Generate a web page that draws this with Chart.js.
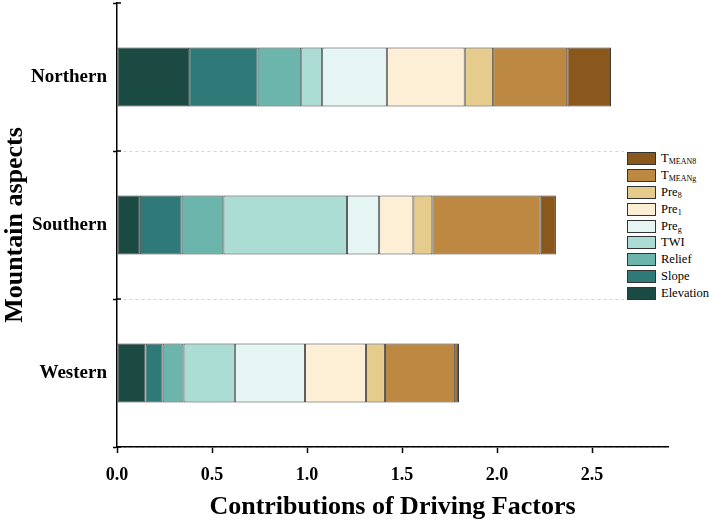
<!DOCTYPE html>
<html>
<head>
<meta charset="utf-8">
<script src="https://cdn.jsdelivr.net/npm/chart.js@4.4.0/dist/chart.umd.min.js"></script>
<style>
  html, body { margin: 0; padding: 0; background: #fff; }
  #wrap { position: relative; width: 709px; height: 526px; }
  #legend {
    position: absolute; left: 624px; top: 148px; background: #fff;
    padding: 2px 0 2px 3px; font-family: "Liberation Serif", "Times New Roman", serif;
    font-size: 12.5px; color: #000;
  }
  .item { display: flex; align-items: center; height: 16.9px; }
  .box { width: 27px; height: 11px; border: 1px solid #333; margin-right: 5px; }
  .item sub { font-size: 8px; vertical-align: -2px; }
</style>
</head>
<body>
<div id="wrap">
  <canvas id="chart" width="709" height="526"></canvas>
  <div id="legend"></div>
</div>
<script>
const aspects = ["Northern", "Southern", "Western"];

// factor names split into main text and subscript (for the legend)
const factorMain = ["Elevation", "Slope", "Relief", "TWI", "Pre", "Pre", "Pre", "T", "T"];
const factorSub = ["", "", "", "", "g", "1", "8", "MEANg", "MEAN8"];
const factorColors = ["#1b4a43", "#2f7a78", "#6cb5ac", "#acddd5", "#e5f5f4", "#fdeed6", "#e6cc8c", "#bd8842", "#8a571c"];

// contribution of each factor, order: Northern, Southern, Western
const elevation = [0.38, 0.12, 0.15];
const slope = [0.36, 0.22, 0.09];
const relief = [0.23, 0.22, 0.11];
const twi = [0.11, 0.65, 0.27];
const preG = [0.34, 0.17, 0.37];
const pre1 = [0.41, 0.18, 0.32];
const pre8 = [0.15, 0.10, 0.10];
const tmeanG = [0.39, 0.57, 0.37];
const tmean8 = [0.23, 0.08, 0.02];

const xTicks = [0, 0.5, 1.0, 1.5, 2.0, 2.5];

const values = [elevation, slope, relief, twi, preG, pre1, pre8, tmeanG, tmean8];
const serif = "'Liberation Serif', 'Times New Roman', serif";

const datasets = values.map((v, i) => ({
    label: factorMain[i] + factorSub[i],
    data: v,
    backgroundColor: factorColors[i],
    borderColor: "#3a3a3a",
    borderWidth: 1,
    borderSkipped: false,
    barPercentage: 0.4,
    categoryPercentage: 1.0
}));

// short ticks on the inner side of the y axis, at the category boundaries
const innerTicks = {
    id: "innerTicks",
    afterDraw(chart) {
        const a = chart.chartArea;
        const x = chart.scales.y.right;
        const n = chart.data.labels.length;
        const ctx = chart.ctx;
        ctx.save();
        ctx.strokeStyle = "#000";
        ctx.lineWidth = 1.5;
        for (let i = 0; i <= n; i++) {
            const y = a.top + i * (a.bottom - a.top) / n;
            ctx.beginPath();
            ctx.moveTo(x, y);
            ctx.lineTo(x + 4, y);
            ctx.stroke();
        }
        ctx.restore();
    }
};

new Chart(document.getElementById("chart"), {
    type: "bar",
    data: { labels: aspects, datasets: datasets },
    options: {
        indexAxis: "y",
        responsive: false,
        animation: false,
        layout: { padding: { top: 3, right: 41, left: 0, bottom: 0 } },
        plugins: { legend: { display: false }, tooltip: { enabled: false } },
        scales: {
            x: {
                stacked: true,
                min: 0,
                max: 2.9,
                afterBuildTicks: (s) => { s.ticks = xTicks.map(v => ({ value: v })); },
                afterFit: (s) => { s.height = 79; },
                border: { color: "#000", width: 1.5 },
                grid: { display: true, drawOnChartArea: false, tickLength: 6, tickColor: "#000", tickWidth: 1.5 },
                ticks: {
                    color: "#000",
                    padding: 12,
                    font: { family: serif, size: 18, weight: "bold" },
                    callback: (v) => Number(v).toFixed(1)
                },
                title: {
                    display: true,
                    text: "Contributions of Driving Factors",
                    color: "#000",
                    font: { family: serif, size: 26, weight: "bold" },
                    padding: { top: 0, bottom: 3 }
                }
            },
            y: {
                stacked: true,
                afterFit: (s) => { s.width = 117; s.paddingTop = 0; s.paddingBottom = 0; },
                border: { color: "#000", width: 1.5, dash: [3, 3] },
                grid: {
                    offset: true,
                    color: (c) => (c.index === 0 ? "rgba(0,0,0,0)" : "#d4d4d4"),
                    lineWidth: 1,
                    tickColor: "#000",
                    tickLength: 4,
                    tickWidth: 1.5,
                    tickBorderDash: []
                },
                ticks: {
                    color: "#000",
                    padding: 6,
                    font: { family: serif, size: 19, weight: "bold" }
                },
                title: {
                    display: true,
                    text: "Mountain aspects",
                    color: "#000",
                    font: { family: serif, size: 26, weight: "bold" },
                    padding: { top: 0, bottom: 0 }
                }
            }
        }
    },
    plugins: [innerTicks]
});

// legend, top to bottom in reverse stacking order
const legend = document.getElementById("legend");
for (let i = factorMain.length - 1; i >= 0; i--) {
    const row = document.createElement("div");
    row.className = "item";
    const sub = factorSub[i] ? "<sub>" + factorSub[i] + "</sub>" : "";
    row.innerHTML = '<span class="box" style="background:' + factorColors[i] + '"></span><span>' + factorMain[i] + sub + "</span>";
    legend.appendChild(row);
}
</script>
</body>
</html>
